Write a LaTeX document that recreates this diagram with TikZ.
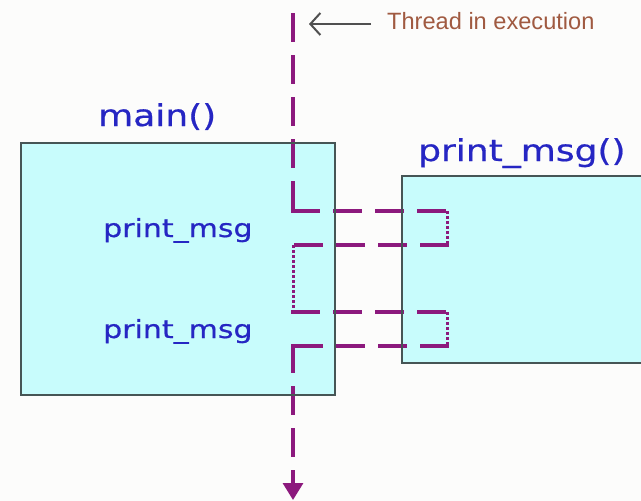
\documentclass[tikz,border=0pt]{standalone}
\usepackage{fontspec}
\usetikzlibrary{arrows.meta, positioning}
\newfontfamily\funcfont[FakeStretch=1.2, FakeBold=0.6]{DejaVu Sans}
\newfontfamily\notefont{Liberation Sans}
\definecolor{pagebg}{RGB}{252,252,251}
\definecolor{boxfill}{RGB}{200,252,252}
\definecolor{boxline}{RGB}{70,85,85}
\definecolor{threadpurple}{RGB}{140,25,125}
\definecolor{funcblue}{RGB}{38,38,195}
\definecolor{notebrown}{RGB}{160,90,65}
\definecolor{notegray}{RGB}{80,80,80}

\begin{document}
\begin{tikzpicture}[x=1pt, y=-1pt,
    funcbox/.style={fill=boxfill, inner sep=0pt, outer sep=0pt},
    boxedge/.style={draw=boxline, line width=2.5pt},
    funcname/.style={text=funcblue, inner sep=0pt, anchor=base west, font=\funcfont\fontsize{30}{36}\selectfont},
    calltext/.style={funcname, font=\funcfont\fontsize{25}{30}\selectfont},
    notetext/.style={text=notebrown, inner sep=0pt, anchor=base west, font=\notefont\fontsize{23.6}{28}\selectfont},
    thread/.style={threadpurple, line width=3.2pt, line cap=rect, dash pattern=on 25pt off 17pt},
    threadjump/.style={threadpurple, line width=3pt, dash pattern=on 3pt off 2pt},
    pointer/.style={notegray, line width=2pt, -{Straight Barb[length=10pt, width=22pt]}}]
    % Page
    \path[use as bounding box, fill=pagebg] (0,0) rectangle (641,501);

    % Function boxes
    \node[funcbox, minimum width=314pt, minimum height=252pt] (mainbox) at (178,269) {};
    \node[funcbox, minimum width=260pt, minimum height=187pt, anchor=north west] (msgbox) at (402,176) {};

    % Names and calls
    \node[funcname] (mainlbl) at (98,126) {main()};
    \node[funcname] (msglbl) at (418,161) {print\_msg()};
    \node[calltext] (call1) at (103,237) {print\_msg};
    \node[calltext] (call2) at (103,338) {print\_msg};

    % Thread path
    \coordinate (tstart) at (293,15);
    \coordinate (go1) at (293,211);
    \coordinate (in1) at (447,211);
    \coordinate (out1) at (447,245);
    \coordinate (back1) at (293,245);
    \coordinate (go2) at (293,312);
    \coordinate (in2) at (447,312);
    \coordinate (out2) at (447,346);
    \coordinate (back2) at (293,346);
    \coordinate (tend) at (293,500);
    \draw[thread] (tstart) -- (go1);
    \draw[thread] (go1) -- (in1);
    \draw[threadjump] (in1) -- (out1);
    \draw[thread] (out1) -- (back1);
    \draw[threadjump] (back1) -- (go2);
    \draw[thread] (go2) -- (in2);
    \draw[threadjump] (in2) -- (out2);
    \draw[thread] (out2) -- (back2);
    \draw[thread, -{Triangle[width=20pt, length=17pt]}] (back2) -- (tend);

    % Box borders over the thread
    \draw[boxedge] (mainbox.north west) rectangle (mainbox.south east);
    \draw[boxedge] (msgbox.north west) rectangle (msgbox.south east);

    % Note
    \node[notetext] (note) at (387,29) {Thread in execution};
    \coordinate (ptrtail) at (371,24);
    \coordinate (ptrhead) at (309,24);
    \draw[pointer] (ptrtail) -- (ptrhead);
\end{tikzpicture}
\end{document}
